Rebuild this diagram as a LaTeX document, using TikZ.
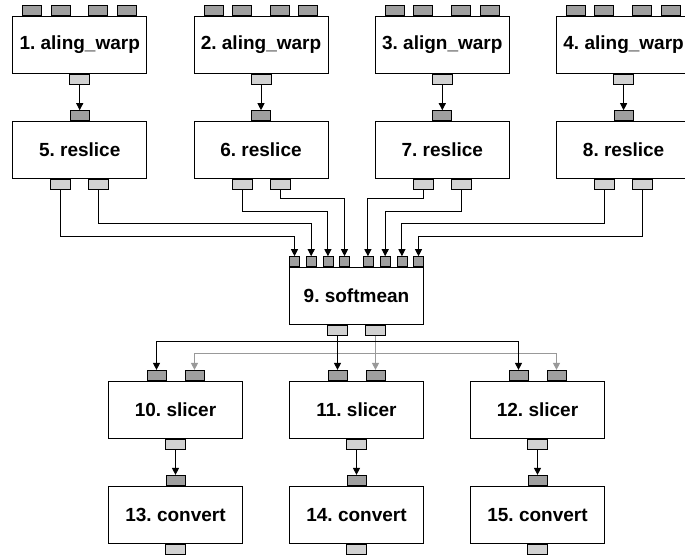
\documentclass[tikz,border=0pt]{standalone}
\usepackage{fontspec}
\setmainfont{Liberation Sans}
\frenchspacing
\usetikzlibrary{arrows.meta,positioning}
\tikzset{
  block/.style={draw, fill=white, line width=1pt, minimum width=134pt, minimum height=57pt, inner sep=0pt, font=\fontsize{19}{22}\selectfont\bfseries},
  inport/.style={draw, fill=gray!75, line width=0.8pt, minimum width=19pt, minimum height=10pt, inner sep=0pt, anchor=south},
  smallport/.style={inport, minimum width=10pt},
  outport/.style={draw, fill=gray!36, line width=0.8pt, minimum width=20pt, minimum height=10pt, inner sep=0pt, anchor=north},
  link/.style={line width=0.9pt, -{Triangle[length=7pt,width=7pt]}},
  greylink/.style={link, draw=gray!80}
}
\begin{document}
\begin{tikzpicture}[x=1pt,y=-1pt]
    \useasboundingbox (0,0) rectangle (685,554);
    % aling_warp / reslice columns
    \foreach \k/\j/\x/\lab in {1/5/79.7/1. aling\_warp, 2/6/261/2. aling\_warp, 3/7/442.3/3. align\_warp, 4/8/623.6/4. aling\_warp}{
        \node[block] (n\k) at (\x,45) {\lab};
        \foreach \p/\dx in {a/-47.5,b/-19.3,c/18.6,d/47.3}
            \node[inport] (i\k\p) at ([xshift=\dx pt]n\k.north) {};
        \node[outport] (o\k) at (n\k.south) {};
        \node[block] (n\j) at (\x,150) {\j. reslice};
        \node[inport] (i\j) at (n\j.north) {};
        \node[outport] (o\j a) at ([xshift=-19pt]n\j.south) {};
        \node[outport] (o\j b) at ([xshift=19pt]n\j.south) {};
        \draw[link] (o\k) -- (i\j);
    }
    % softmean
    \node[block] (n9) at (356.5,296) {9. softmean};
    \foreach \p/\dx in {1/-62,2/-45.3,3/-28.6,4/-12,5/11.4,6/28.7,7/45.4,8/62}
        \node[smallport] (s\p) at ([xshift=\dx pt]n9.north) {};
    \node[outport] (o9a) at ([xshift=-19pt]n9.south) {};
    \node[outport] (o9b) at ([xshift=19pt]n9.south) {};
    \foreach \src/\dst/\yy in {o5a/s1/236, o5b/s2/223, o6a/s3/211, o6b/s4/198, o7a/s5/198, o7b/s6/211, o8a/s7/223, o8b/s8/236}
        \draw[link] (\src) -- (\src |- 0,\yy) -| (\dst);
    % slicer / convert
    \foreach \k/\j/\x in {10/13/175.5, 11/14/356.5, 12/15/537.5}{
        \node[block] (n\k) at (\x,409.7) {\k. slicer};
        \node[inport] (i\k a) at ([xshift=-19pt]n\k.north) {};
        \node[inport] (i\k b) at ([xshift=19pt]n\k.north) {};
        \node[outport] (o\k) at (n\k.south) {};
        \node[block] (n\j) at (\x,514.7) {\j. convert};
        \node[inport] (i\j) at (n\j.north) {};
        \node[outport] (o\j) at (n\j.south) {};
        \draw[link] (o\k) -- (i\j);
    }
    \draw[greylink] (o9b) -- (o9b |- 0,353) -| (i10b);
    \draw[greylink] (o9b |- 0,353) -| (i12b);
    \draw[greylink] (o9b) -- (i11b);
    \draw[link] (o9a) -- (o9a |- 0,341) -| (i10a);
    \draw[link] (o9a |- 0,341) -| (i12a);
    \draw[link] (o9a) -- (i11a);
\end{tikzpicture}
\end{document}
